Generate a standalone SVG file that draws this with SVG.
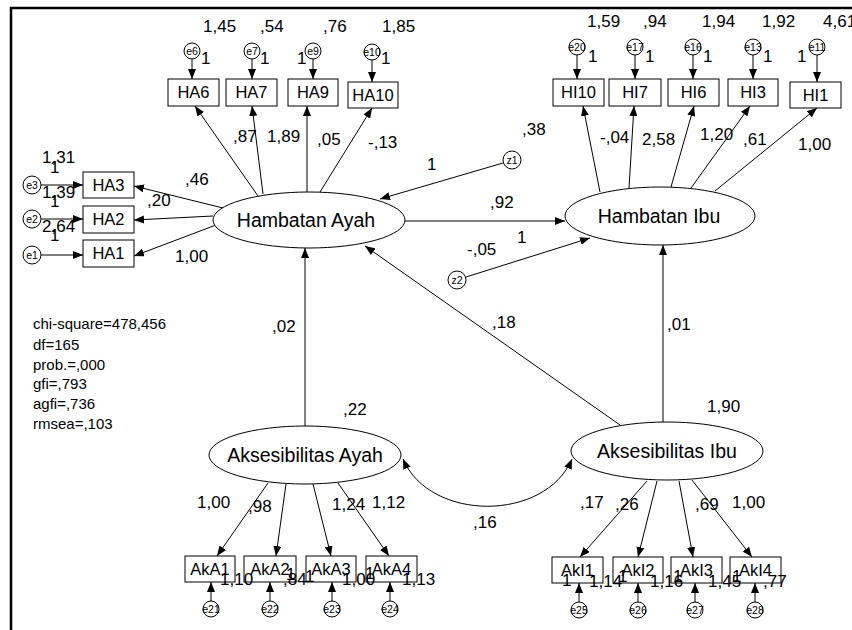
<svg xmlns="http://www.w3.org/2000/svg" width="852" height="630" viewBox="0 0 852 630">
<defs>
<marker id="ah" viewBox="0 0 10 8" refX="10" refY="4" markerWidth="10" markerHeight="8" markerUnits="userSpaceOnUse" orient="auto-start-reverse"><path d="M0,0 L10,4 L0,8 z" fill="#000"/></marker>
</defs>
<style>
text{font-family:"Liberation Sans",Arial,sans-serif;fill:#000}
.n{font-size:17px}
.b{font-size:16.5px;text-anchor:middle}
.lv{font-size:19.5px;text-anchor:middle}
.e{font-size:10.5px;text-anchor:middle}
.s{font-size:15px}
rect{fill:#fff;stroke:#000;stroke-width:1}
ellipse,circle{fill:#fff;stroke:#000;stroke-width:1}
.c line,.c path{stroke:#000;stroke-width:1;fill:none;marker-end:url(#ah)}
</style>
<rect x="0" y="0" width="852" height="630" style="fill:#fff;stroke:none"/>
<path d="M11,630 V8 H852" style="fill:none;stroke:#000;stroke-width:2.5"/>

<g class="c" id="connectors">
<line x1="192" y1="59" x2="192" y2="79"/>
<line x1="252" y1="59" x2="252" y2="79"/>
<line x1="313" y1="59" x2="313" y2="79"/>
<line x1="372" y1="60" x2="372" y2="82"/>
<line x1="577" y1="55" x2="577" y2="79"/>
<line x1="635" y1="55" x2="635" y2="79"/>
<line x1="693" y1="55" x2="693" y2="79"/>
<line x1="753" y1="55" x2="753" y2="79"/>
<line x1="817" y1="55" x2="817" y2="82"/>
<line x1="41" y1="185" x2="83" y2="185"/>
<line x1="41" y1="219" x2="83" y2="219"/>
<line x1="41" y1="255" x2="83" y2="255"/>
<line x1="258" y1="196" x2="195" y2="106"/>
<line x1="263" y1="194" x2="252" y2="106"/>
<line x1="307" y1="192" x2="307" y2="106"/>
<line x1="320" y1="192" x2="372" y2="108"/>
<line x1="223" y1="208" x2="134" y2="186"/>
<line x1="213" y1="216" x2="134" y2="220"/>
<line x1="216" y1="225" x2="134" y2="256"/>
<line x1="600" y1="192" x2="583" y2="106"/>
<line x1="629" y1="188" x2="634" y2="106"/>
<line x1="671" y1="187" x2="694" y2="106"/>
<line x1="691" y1="188" x2="750" y2="106"/>
<line x1="715" y1="191" x2="817" y2="108"/>
<line x1="405" y1="221" x2="565" y2="221"/>
<line x1="503" y1="163" x2="380" y2="199"/>
<line x1="466" y1="277" x2="590" y2="238"/>
<line x1="305" y1="426" x2="305" y2="248"/>
<line x1="663" y1="422" x2="663" y2="245"/>
<line x1="620" y1="425" x2="365" y2="246"/>
<path d="M403,459 C430,522 545,522 572,459" style="marker-start:url(#ah)"/>
<line x1="268" y1="483" x2="217" y2="556"/>
<line x1="286" y1="484" x2="276" y2="556"/>
<line x1="313" y1="484" x2="331" y2="556"/>
<line x1="338" y1="483" x2="389" y2="556"/>
<line x1="647" y1="481" x2="580" y2="557"/>
<line x1="657" y1="481" x2="638" y2="557"/>
<line x1="679" y1="481" x2="693" y2="557"/>
<line x1="692" y1="480" x2="752" y2="557"/>
<line x1="211" y1="601" x2="211" y2="582"/>
<line x1="270" y1="601" x2="270" y2="582"/>
<line x1="332" y1="601" x2="332" y2="582"/>
<line x1="390" y1="601" x2="390" y2="582"/>
<line x1="579" y1="602" x2="579" y2="583"/>
<line x1="638" y1="602" x2="638" y2="583"/>
<line x1="695" y1="602" x2="695" y2="583"/>
<line x1="755" y1="602" x2="755" y2="583"/>
</g>

<g id="HambatanAyah"><ellipse cx="309" cy="220" rx="96" ry="28"/><text class="lv" x="306" y="227">Hambatan Ayah</text></g>
<g id="HambatanIbu"><ellipse cx="660" cy="216" rx="95" ry="29"/><text class="lv" x="659" y="223">Hambatan Ibu</text></g>
<g id="AksesibilitasAyah"><ellipse cx="305" cy="455" rx="96" ry="29"/><text class="lv" x="305" y="462">Aksesibilitas Ayah</text></g>
<g id="AksesibilitasIbu"><ellipse cx="667" cy="451" rx="96" ry="29"/><text class="lv" x="667" y="458">Aksesibilitas Ibu</text></g>

<g id="HA6"><rect x="168" y="79" width="51" height="27"/><text class="b" x="193.5" y="98">HA6</text></g>
<g id="HA7"><rect x="226" y="79" width="51" height="27"/><text class="b" x="251.5" y="98">HA7</text></g>
<g id="HA9"><rect x="288" y="79" width="50" height="27"/><text class="b" x="313" y="98">HA9</text></g>
<g id="HA10"><rect x="348" y="82" width="50" height="26"/><text class="b" x="373" y="101">HA10</text></g>
<g id="HA3"><rect x="83" y="172" width="51" height="26"/><text class="b" x="108.5" y="191">HA3</text></g>
<g id="HA2"><rect x="83" y="206" width="51" height="27"/><text class="b" x="108.5" y="225">HA2</text></g>
<g id="HA1"><rect x="83" y="240" width="51" height="27"/><text class="b" x="108.5" y="259">HA1</text></g>

<g id="HI10"><rect x="553" y="79" width="51" height="27"/><text class="b" x="578.5" y="98">HI10</text></g>
<g id="HI7"><rect x="609" y="79" width="52" height="27"/><text class="b" x="635" y="98">HI7</text></g>
<g id="HI6"><rect x="668" y="79" width="51" height="27"/><text class="b" x="693.5" y="98">HI6</text></g>
<g id="HI3"><rect x="728" y="79" width="50" height="27"/><text class="b" x="753" y="98">HI3</text></g>
<g id="HI1"><rect x="790" y="82" width="51" height="26"/><text class="b" x="815.5" y="101">HI1</text></g>

<g id="AkA1"><rect x="185" y="556" width="50" height="26"/><text class="b" x="210" y="575">AkA1</text></g>
<g id="AkA2"><rect x="244" y="556" width="52" height="26"/><text class="b" x="270" y="575">AkA2</text></g>
<g id="AkA3"><rect x="306" y="556" width="50" height="26"/><text class="b" x="331" y="575">AkA3</text></g>
<g id="AkA4"><rect x="366" y="556" width="51" height="26"/><text class="b" x="391.5" y="575">AkA4</text></g>

<g id="AkI1"><rect x="552" y="557" width="51" height="26"/><text class="b" x="577.5" y="576">AkI1</text></g>
<g id="AkI2"><rect x="613" y="557" width="50" height="26"/><text class="b" x="638" y="576">AkI2</text></g>
<g id="AkI3"><rect x="671" y="557" width="51" height="26"/><text class="b" x="696.5" y="576">AkI3</text></g>
<g id="AkI4"><rect x="730" y="557" width="51" height="26"/><text class="b" x="755.5" y="576">AkI4</text></g>

<g id="e6"><circle cx="192" cy="51" r="8"/><text class="e" x="192" y="55">e6</text></g>
<g id="e7"><circle cx="252" cy="51" r="8"/><text class="e" x="252" y="55">e7</text></g>
<g id="e9"><circle cx="313" cy="51" r="8"/><text class="e" x="313" y="55">e9</text></g>
<g id="e10"><circle cx="372" cy="52" r="8"/><text class="e" x="372" y="56">e10</text></g>
<g id="e20"><circle cx="577" cy="47" r="8"/><text class="e" x="577" y="51">e20</text></g>
<g id="e17"><circle cx="635" cy="47" r="8"/><text class="e" x="635" y="51">e17</text></g>
<g id="e16"><circle cx="693" cy="47" r="8"/><text class="e" x="693" y="51">e16</text></g>
<g id="e13"><circle cx="753" cy="47" r="8"/><text class="e" x="753" y="51">e13</text></g>
<g id="e11"><circle cx="817" cy="47" r="8"/><text class="e" x="817" y="51">e11</text></g>
<g id="e3"><circle cx="32" cy="185" r="9"/><text class="e" x="32" y="189">e3</text></g>
<g id="e2"><circle cx="32" cy="219" r="9"/><text class="e" x="32" y="223">e2</text></g>
<g id="e1"><circle cx="32" cy="255" r="9"/><text class="e" x="32" y="259">e1</text></g>
<g id="z1"><circle cx="512" cy="160" r="9"/><text class="e" x="512" y="164">z1</text></g>
<g id="z2"><circle cx="457" cy="280" r="9"/><text class="e" x="457" y="284">z2</text></g>
<g id="e21"><circle cx="211" cy="609" r="8"/><text class="e" x="211" y="613">e21</text></g>
<g id="e22"><circle cx="270" cy="609" r="8"/><text class="e" x="270" y="613">e22</text></g>
<g id="e23"><circle cx="332" cy="609" r="8"/><text class="e" x="332" y="613">e23</text></g>
<g id="e24"><circle cx="390" cy="609" r="8"/><text class="e" x="390" y="613">e24</text></g>
<g id="e25"><circle cx="579" cy="610" r="8"/><text class="e" x="579" y="614">e25</text></g>
<g id="e26"><circle cx="638" cy="610" r="8"/><text class="e" x="638" y="614">e26</text></g>
<g id="e27"><circle cx="695" cy="610" r="8"/><text class="e" x="695" y="614">e27</text></g>
<g id="e28"><circle cx="755" cy="610" r="8"/><text class="e" x="755" y="614">e28</text></g>

<g id="labels" class="n">
<text x="203" y="32">1,45</text>
<text x="260" y="32">,54</text>
<text x="323" y="32">,76</text>
<text x="382" y="32">1,85</text>
<text x="201" y="64">1</text>
<text x="260" y="64">1</text>
<text x="297" y="64">1</text>
<text x="381" y="64">1</text>
<text x="587" y="27">1,59</text>
<text x="643" y="27">,94</text>
<text x="702" y="27">1,94</text>
<text x="762" y="27">1,92</text>
<text x="823" y="27">4,61</text>
<text x="588" y="62">1</text>
<text x="645" y="62">1</text>
<text x="703" y="62">1</text>
<text x="763" y="62">1</text>
<text x="797" y="62">1</text>
<text x="42" y="163">1,31</text>
<text x="50" y="173">1</text>
<text x="42" y="198">1,39</text>
<text x="50" y="207">1</text>
<text x="42" y="232">2,64</text>
<text x="50" y="241">1</text>
<text x="185" y="185">,46</text>
<text x="147" y="206">,20</text>
<text x="175" y="262">1,00</text>
<text x="233" y="142">,87</text>
<text x="267" y="142">1,89</text>
<text x="317" y="145">,05</text>
<text x="368" y="148">-,13</text>
<text x="600" y="143">-,04</text>
<text x="642" y="145">2,58</text>
<text x="700" y="140">1,20</text>
<text x="743" y="145">,61</text>
<text x="798" y="150">1,00</text>
<text x="522" y="135">,38</text>
<text x="427" y="170">1</text>
<text x="490" y="208">,92</text>
<text x="517" y="243">1</text>
<text x="467" y="255">-,05</text>
<text x="272" y="332">,02</text>
<text x="492" y="328">,18</text>
<text x="667" y="330">,01</text>
<text x="343" y="415">,22</text>
<text x="707" y="412">1,90</text>
<text x="473" y="528">,16</text>
<text x="197" y="508">1,00</text>
<text x="248" y="512">,98</text>
<text x="332" y="510">1,24</text>
<text x="372" y="508">1,12</text>
<text x="580" y="508">,17</text>
<text x="615" y="510">,26</text>
<text x="695" y="510">,69</text>
<text x="732" y="508">1,00</text>
<text x="220" y="585">1,10</text>
<text x="283" y="585">,84</text>
<text x="286" y="580">1</text>
<text x="305" y="582">1</text>
<text x="342" y="585">1,00</text>
<text x="365" y="579">1</text>
<text x="402" y="585">1,13</text>
<text x="562" y="586">1</text>
<text x="589" y="587">1,14</text>
<text x="618" y="582">1</text>
<text x="650" y="587">1,16</text>
<text x="673" y="582">1</text>
<text x="708" y="587">1,45</text>
<text x="732" y="582">1</text>
<text x="763" y="587">,77</text>
</g>

<g id="fit" class="s">
<text x="33" y="329">chi-square=478,456</text>
<text x="33" y="350">df=165</text>
<text x="33" y="370">prob.=,000</text>
<text x="33" y="389">gfi=,793</text>
<text x="33" y="409">agfi=,736</text>
<text x="33" y="429">rmsea=,103</text>
</g>
</svg>
